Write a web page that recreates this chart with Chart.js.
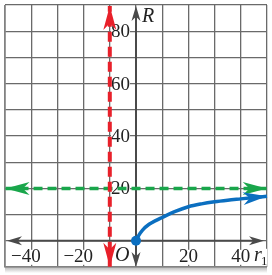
<!DOCTYPE html>
<html>
<head>
<meta charset="utf-8">
<script src="https://cdn.jsdelivr.net/npm/chart.js@4"></script>
<style>
  html, body { margin: 0; padding: 0; background: #fff; }
  #wrap { width: 272px; height: 275px; position: relative; }
</style>
</head>
<body>
<div id="wrap"><canvas id="graph" width="272" height="275"></canvas></div>
<script>
// values
const xTicks = [-40, -20, 20, 40];
const yTicks = [20, 40, 60, 80];
const r1Values = [0, 1, 2.5, 5, 7.5, 10, 15, 20, 25, 30, 35, 40, 45, 50];
const rValues = [0, 2, 4.1, 6.3, 7.7, 8.9, 11.2, 13, 14.1, 14.9, 15.5, 16, 16.5, 17];
const verticalAsymptote = -10;
const horizontalAsymptote = 20;
// where the dashed lines end (arrow tips)
const redEnds = [-9.9, 89.6];
const greenEnds = [-49.8, 49.9];

const RED = "#e8202a";
const GREEN = "#19a64b";
const BLUE = "#0b6fc0";
const AXIS = "#4a4a4a";
const GRID = "#6a6a6a";

const curve = r1Values.map((x, i) => ({ x: x, y: rValues[i] }));

const arrowHead = (ctx, x, y, angle, color, len, half) => {
  ctx.save();
  ctx.translate(x, y);
  ctx.rotate(angle);
  ctx.fillStyle = color;
  ctx.beginPath();
  ctx.moveTo(0, 0);
  ctx.lineTo(-len, -half);
  ctx.lineTo(-len * 0.72, 0);
  ctx.lineTo(-len, half);
  ctx.closePath();
  ctx.fill();
  ctx.restore();
};

const SERIF = "'Liberation Serif', 'DejaVu Serif', serif";

// axes, labels and arrowheads drawn on the chart scales
const decorations = {
  id: "decorations",
  beforeDatasetsDraw(chart) {
    const { ctx, scales, chartArea } = chart;
    const x0 = scales.x.getPixelForValue(0);
    const y0 = scales.y.getPixelForValue(0);
    ctx.save();
    // frame and shadow
    ctx.strokeStyle = "#8a8a8a";
    ctx.lineWidth = 1.5;
    ctx.beginPath();
    ctx.moveTo(chartArea.left, chartArea.top);
    ctx.lineTo(chartArea.left, chartArea.bottom);
    ctx.lineTo(chartArea.right, chartArea.bottom);
    ctx.stroke();
    const grad = ctx.createLinearGradient(0, chartArea.bottom, 0, chartArea.bottom + 6);
    grad.addColorStop(0, "rgba(120,120,120,0.55)");
    grad.addColorStop(1, "rgba(120,120,120,0)");
    ctx.fillStyle = grad;
    ctx.fillRect(chartArea.left, chartArea.bottom + 0.75, chartArea.right - chartArea.left, 6);

    // labels with white background
    ctx.font = "19px " + SERIF;
    ctx.textBaseline = "middle";
    yTicks.forEach((v) => {
      const y = scales.y.getPixelForValue(v);
      const t = String(v);
      const w = ctx.measureText(t).width;
      ctx.fillStyle = "#fff";
      ctx.fillRect(x0 - 6 - w, y - 7, w, 14);
      ctx.fillStyle = "#222";
      ctx.textAlign = "right";
      ctx.fillText(t, x0 - 6, y + 1);
    });
    xTicks.forEach((v) => {
      const x = scales.x.getPixelForValue(v);
      const t = (v < 0 ? "\u2212" : "") + Math.abs(v);
      const digits = ctx.measureText(String(Math.abs(v))).width;
      const w = ctx.measureText(t).width;
      const right = x + digits / 2;
      ctx.fillStyle = "#fff";
      ctx.fillRect(right - w, y0 + 9, w, 15);
      ctx.fillStyle = "#222";
      ctx.textAlign = "right";
      ctx.fillText(t, right, y0 + 16);
    });
    ctx.font = "italic 20px " + SERIF;
    ctx.textAlign = "left";
    ctx.fillStyle = "#fff";
    ctx.fillRect(x0 - 20, y0 + 8, 14, 15);
    ctx.fillStyle = "#222";
    ctx.fillText("O", x0 - 21, y0 + 15);
    ctx.fillStyle = "#fff";
    ctx.fillRect(x0 + 5, chartArea.top + 4, 15, 16);
    ctx.fillStyle = "#222";
    ctx.fillText("R", x0 + 6, chartArea.top + 12);
    ctx.fillStyle = "#fff";
    ctx.fillRect(chartArea.right - 13, y0 + 8, 13, 17);
    ctx.fillStyle = "#222";
    ctx.fillText("r", chartArea.right - 13, y0 + 15);
    ctx.font = "13px " + SERIF;
    ctx.fillText("1", chartArea.right - 6, y0 + 21);

    // axes
    ctx.strokeStyle = AXIS;
    ctx.lineWidth = 2;
    ctx.beginPath();
    ctx.moveTo(chartArea.left + 10, y0);
    ctx.lineTo(chartArea.right - 10, y0);
    ctx.moveTo(x0, chartArea.top + 10);
    ctx.lineTo(x0, chartArea.bottom - 10);
    ctx.stroke();
    arrowHead(ctx, chartArea.left + 2, y0, Math.PI, AXIS, 15, 4.5);
    arrowHead(ctx, chartArea.right - 3, y0, 0, AXIS, 15, 4.5);
    arrowHead(ctx, x0, chartArea.top + 1, -Math.PI / 2, AXIS, 15, 4.5);
    arrowHead(ctx, x0, chartArea.bottom, Math.PI / 2, AXIS, 15, 4.5);
    ctx.restore();
  },
  afterDatasetsDraw(chart) {
    const { ctx } = chart;
    chart.data.datasets.forEach((ds, i) => {
      const pts = chart.getDatasetMeta(i).data;
      if (pts.length < 2) return;
      const a = pts[pts.length - 2], b = pts[pts.length - 1];
      arrowHead(ctx, b.x, b.y, Math.atan2(b.y - a.y, b.x - a.x), ds.borderColor, 24, 6.5);
      if (ds.bothEnds) {
        const c = pts[0], d = pts[1];
        arrowHead(ctx, c.x, c.y, Math.atan2(c.y - d.y, c.x - d.x), ds.borderColor, 24, 6.5);
      }
    });
  },
};

new Chart(document.getElementById("graph"), {
  type: "scatter",
  data: {
    datasets: [
      {
        data: redEnds.map((y) => ({ x: verticalAsymptote, y: y })),
        showLine: true,
        borderColor: RED,
        borderWidth: 4,
        borderDash: [10, 5],
        pointRadius: 0,
        bothEnds: true,
      },
      {
        data: greenEnds.map((x) => ({ x: x, y: horizontalAsymptote })),
        showLine: true,
        borderColor: GREEN,
        borderWidth: 3.5,
        borderDash: [9, 5],
        pointRadius: 0,
        bothEnds: true,
      },
      {
        data: curve,
        showLine: true,
        borderColor: BLUE,
        backgroundColor: BLUE,
        borderWidth: 3.5,
        cubicInterpolationMode: "monotone",
        pointRadius: curve.map((p, i) => (i === 0 ? 5 : 0)),
        pointBorderWidth: 0,
      },
    ],
  },
  options: {
    responsive: false,
    animation: false,
    clip: false,
    layout: { padding: { left: 5, right: 0, top: 0, bottom: 8 } },
    plugins: { legend: { display: false }, tooltip: { enabled: false } },
    scales: {
      x: {
        type: "linear",
        min: -50,
        max: 50,
        ticks: { display: false, stepSize: 10 },
        border: { display: false },
        grid: { color: GRID, lineWidth: 1.3, drawTicks: false },
      },
      y: {
        type: "linear",
        min: -10,
        max: 90,
        ticks: { display: false, stepSize: 10 },
        border: { display: false },
        grid: { color: GRID, lineWidth: 1.3, drawTicks: false },
      },
    },
  },
  plugins: [decorations],
});
</script>
</body>
</html>
